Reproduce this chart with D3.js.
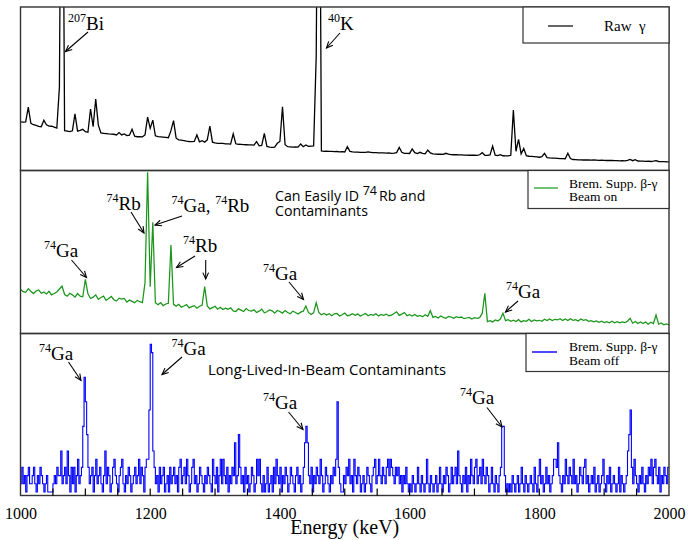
<!DOCTYPE html>
<html><head><meta charset="utf-8">
<script src="https://cdn.jsdelivr.net/npm/d3@7"></script>
<style>body{margin:0;background:#fff} .serif{font-family:"Liberation Serif","Times New Roman",serif} .sans{font-family:"Open Sans",Lato,sans-serif}</style>
</head><body><svg id="c" width="688" height="540"></svg>
<script>
// ---------------- data ----------------
const energyStart = 1000;   // keV, first channel
const binWidth = 4;         // keV per channel (raw and beam-on spectra)
const offBinWidth = 2;      // keV per channel (beam-off histogram)
const xTicks = [1000, 1200, 1400, 1600, 1800, 2000];
const minorTickStep = 50;

// Raw gamma spectrum (arbitrary units), one value per 4 keV from 1000 to 2000
const rawGamma = [
 30.0,29.8,30.0,39.0,29.0,28.2,27.8,27.2,27.0,31.0,
 28.2,27.4,27.3,26.8,26.2,51.0,300,24.6,24.3,24.0,
 24.5,34.8,24.3,24.8,25.4,24.0,23.6,37.8,27.0,43.9,
 28.0,23.2,23.0,22.8,22.6,22.5,22.4,22.0,23.4,22.0,
 22.6,21.6,21.8,25.4,21.2,20.9,21.0,20.8,22.0,32.9,
 26.0,31.0,21.5,20.9,20.8,20.7,20.5,20.3,24.6,30.7,
 20.0,19.0,18.8,18.5,18.2,18.0,17.9,18.0,22.0,17.8,
 18.5,17.6,19.0,27.4,17.6,17.2,16.9,16.9,16.8,16.6,
 16.5,16.4,22.6,16.6,16.3,16.2,16.1,16.0,15.9,15.9,
 15.8,17.9,15.4,15.6,23.0,15.0,14.6,14.4,14.5,16.9,
 18.0,39.2,16.0,14.8,14.7,14.6,14.7,14.6,16.5,14.8,
 15.9,15.0,15.2,15.3,70,300,12.2,12.0,12.1,12.0,
 12.0,11.8,11.9,11.7,11.8,11.6,14.8,12.0,11.6,11.5,
 11.5,11.4,11.3,11.4,11.6,11.4,11.2,11.2,11.1,11.0,
 11.0,10.9,11.0,10.8,10.9,11.2,14.4,11.4,10.8,10.8,
 10.7,13.4,11.2,10.6,11.4,10.8,10.5,12.8,11.0,10.4,
 10.3,10.2,10.2,10.1,10.8,10.3,10.0,9.9,9.9,9.8,
 9.8,9.7,9.7,9.6,9.6,9.7,9.5,9.9,11.2,9.6,
 9.5,9.8,15.2,9.6,9.4,10.0,9.3,9.2,9.2,9.6,
 37.2,12.0,19.3,10.5,13.8,9.3,9.0,8.9,8.8,8.6,
 8.4,8.8,10.8,8.2,8.0,7.9,7.8,7.7,7.6,7.6,
 7.5,10.8,7.6,7.0,6.9,6.8,6.8,6.7,6.8,6.7,
 6.6,6.7,6.6,6.5,6.6,6.5,6.4,6.5,6.4,6.3,
 6.3,6.2,6.3,6.2,6.5,7.1,6.3,6.9,6.1,6.0,
 6.0,5.9,6.0,5.8,6.0,6.3,5.8,5.7,5.7,5.6,
 5.6
];

// Brem. suppressed beta-gamma, beam on (arbitrary units), per 4 keV
const bremOn = [
 26.8,25.4,25.0,27.2,25.6,24.2,25.8,26.4,24.4,25.2,
 24.0,25.6,23.4,24.2,25.2,27.0,28.8,23.6,22.6,24.4,
 23.4,22.0,24.2,22.6,22.2,32.9,24.0,21.2,22.0,23.4,
 20.6,21.8,22.6,20.0,21.2,22.4,20.4,19.6,21.4,20.8,
 21.2,19.0,20.2,19.4,18.6,20.0,19.2,18.6,30.9,98.6,
 28.4,67.9,18.6,17.4,18.6,16.8,17.8,18.2,54.0,17.6,
 16.4,17.6,15.8,16.6,17.4,15.4,16.2,16.8,15.2,16.4,
 17.0,28.4,16.6,14.8,15.6,16.4,14.6,15.8,14.4,15.2,
 14.6,15.4,13.6,13.2,14.8,14.0,13.2,15.0,13.8,13.4,
 14.2,12.6,13.4,14.6,12.4,13.0,14.2,13.6,12.2,13.8,
 13.2,12.2,13.8,12.6,11.8,13.4,12.6,11.6,12.8,13.4,
 16.6,12.6,11.4,12.4,18.6,12.6,11.2,12.0,11.0,11.8,
 10.6,11.8,12.0,10.4,11.2,12.2,10.6,11.0,11.8,10.8,
 11.6,10.4,11.2,12.0,10.6,11.4,10.8,11.8,10.4,11.4,
 10.8,11.6,10.6,11.0,12.0,13.0,10.8,11.6,12.6,10.6,
 11.2,10.4,11.4,10.2,10.8,10.0,11.2,10.2,13.7,9.6,
 10.2,9.2,10.4,9.6,9.0,10.2,9.8,9.0,10.0,9.4,
 9.8,8.8,9.2,9.6,8.6,9.4,9.0,9.4,12.0,24.3,
 7.0,7.6,6.8,8.0,7.4,8.6,12.1,7.6,8.2,7.2,
 7.8,7.0,8.2,6.8,7.6,7.2,8.4,7.0,8.0,7.4,
 7.8,7.2,8.4,7.6,8.6,7.6,8.4,8.0,8.8,7.6,
 8.6,7.6,8.8,7.8,8.2,7.4,8.6,7.8,8.2,7.2,
 7.6,6.8,7.4,6.6,7.2,6.4,7.0,6.2,7.2,6.2,
 7.0,6.2,6.8,6.4,7.2,9.0,6.0,7.0,5.8,6.8,
 5.8,6.8,5.4,6.6,5.8,11.0,5.4,6.2,5.0,5.6,
 4.9
];

// Brem. suppressed beta-gamma, beam off (counts per 2 keV channel), 1000-2000 keV
const bremOff = [
 1,3,1,2,0,2,3,1,1,2,3,1,0,2,1,3,2,1,0,1,
 2,0,0,0,0,1,2,1,3,2,2,5,1,2,3,1,5,2,0,3,
 1,3,0,2,4,1,2,3,8,14,11,7,3,1,2,3,0,2,4,1,
 2,3,1,0,2,5,1,3,2,0,1,3,4,2,1,0,2,3,4,1,
 0,2,1,3,2,0,1,2,3,1,2,4,1,3,2,0,3,4,4,10,
 18,17,5,3,1,2,0,3,1,2,3,0,1,2,0,3,1,2,3,1,
 2,0,3,4,1,2,3,1,4,2,0,1,3,4,1,2,0,1,3,2,
 1,0,2,1,3,2,1,0,4,2,1,3,0,2,4,1,4,2,1,3,
 0,2,1,3,2,6,1,2,7,3,1,2,0,3,1,2,0,1,3,2,
 0,1,4,2,4,1,0,2,0,1,3,0,1,2,0,3,1,4,2,1,
 3,0,2,1,3,2,0,1,3,2,1,0,2,3,1,2,0,1,3,6,
 8,6,2,1,3,0,2,1,3,2,1,4,2,0,1,3,2,1,0,2,
 1,3,2,4,11,3,1,0,0,2,1,3,2,4,1,2,0,4,2,1,
 3,2,0,1,2,0,1,3,2,1,0,2,3,4,1,2,4,2,1,3,
 2,1,3,4,2,4,3,2,1,3,2,3,1,2,0,2,1,3,1,0,
 1,0,2,1,0,1,3,1,0,2,1,0,1,4,1,0,2,1,0,1,
 2,0,1,3,1,0,2,1,3,2,0,1,3,1,2,3,1,5,2,1,
 0,2,1,3,0,2,1,4,2,1,3,4,1,2,3,1,4,2,1,3,
 2,0,1,3,1,0,2,1,0,2,3,8,8,2,0,1,0,1,0,2,
 1,0,1,2,0,1,3,1,0,2,1,0,1,2,1,0,3,1,0,2,
 4,1,2,0,1,3,1,2,0,1,2,4,4,3,6,2,1,0,2,1,
 4,2,1,3,2,1,4,1,2,0,1,3,2,1,3,4,1,2,0,1,
 2,1,3,0,1,2,0,1,2,4,1,0,2,1,3,0,1,2,1,0,
 1,3,0,2,1,0,1,2,5,7,10,3,1,4,2,1,0,2,1,3,
 1,0,2,1,3,2,4,1,3,4,2,1,3,0,2,1,3,2,1,3
];

const legendTexts = [["Raw\u00a0\u00a0γ"], ["Brem. Supp. β-γ", "Beam on"], ["Brem. Supp. β-γ", "Beam off"]];
const seriesColors = ["#000000", "#1a961a", "#0000ff"];

// ---------------- layout ----------------
const svg = d3.select("#c");
const L = 20.5, R = 669;
const panels = [{top: 7, bottom: 170.5}, {top: 170.5, bottom: 333.5}, {top: 333.5, bottom: 495.5}];
const x = d3.scaleLinear().domain([1000, 2000]).range([L, R]);
const yScales = [
  d3.scaleLinear().domain([0, 100]).range([171, 7]),
  d3.scaleLinear().domain([0, 100]).range([333, 170]),
  d3.scaleLinear().domain([0, 20]).range([492, 328])
];
const eAt = (i, w) => energyStart + i * w;

const defs = svg.append("defs");
panels.forEach((p, k) => {
  defs.append("clipPath").attr("id", "clip" + k).append("rect")
    .attr("x", L).attr("y", p.top).attr("width", R - L).attr("height", p.bottom - p.top);
});

// spectra
const lineOf = ys => d3.line().x((d, i) => x(eAt(i, binWidth))).y(d => ys(d));
svg.append("path").attr("clip-path", "url(#clip0)").datum(rawGamma)
  .attr("d", lineOf(yScales[0])).attr("fill", "none").attr("stroke", seriesColors[0]).attr("stroke-width", 1.3);
svg.append("path").attr("clip-path", "url(#clip1)").datum(bremOn)
  .attr("d", lineOf(yScales[1])).attr("fill", "none").attr("stroke", seriesColors[1]).attr("stroke-width", 1.25);
const offPts = bremOff.concat([bremOff[bremOff.length - 1]]);
svg.append("path").attr("clip-path", "url(#clip2)").datum(offPts)
  .attr("d", d3.line().curve(d3.curveStepAfter).x((d, i) => x(eAt(i, offBinWidth))).y(d => yScales[2](d)))
  .attr("fill", "none").attr("stroke", seriesColors[2]).attr("stroke-width", 1.1);

// frames
panels.forEach(p => {
  svg.append("rect").attr("x", L).attr("y", p.top).attr("width", R - L).attr("height", p.bottom - p.top)
    .attr("fill", "none").attr("stroke", "#333").attr("stroke-width", 1.4);
});

// bottom axis
const xAxis = d3.axisBottom(x).tickValues(xTicks).tickSize(0).tickPadding(12).tickFormat(d3.format("d"));
const gAx = svg.append("g").attr("transform", `translate(0,${panels[2].bottom})`).call(xAxis)
  .attr("font-family", null).attr("font-size", null);
gAx.select(".domain").remove();
gAx.selectAll("text").attr("class", "serif").style("font-family", "'Liberation Serif',serif").style("font-size", "16px").attr("fill", "#000");
const minor = d3.range(1050, 2000, minorTickStep);
svg.append("g").selectAll("line").data(minor).join("line")
  .attr("x1", d => x(d)).attr("x2", d => x(d))
  .attr("y1", panels[2].bottom).attr("y2", panels[2].bottom - 7)
  .attr("stroke", "#000").attr("stroke-width", 1.2);
svg.append("text").attr("class", "serif").attr("x", (L + R) / 2).attr("y", 534).attr("text-anchor", "middle")
  .style("font-size", "20px").text("Energy (keV)");

// legends
const legendBoxes = [{x: 523, y: 7, h: 36}, {x: 528, y: 170.5, h: 38}, {x: 526, y: 333.5, h: 38}];
legendBoxes.forEach(b => {
  svg.append("rect").attr("x", b.x).attr("y", b.y).attr("width", R - b.x).attr("height", b.h)
    .attr("fill", "#fff").attr("stroke", "#333").attr("stroke-width", 1.2);
});
svg.append("line").attr("x1", 548).attr("x2", 573).attr("y1", 26).attr("y2", 26).attr("stroke", seriesColors[0]).attr("stroke-width", 1.2);
svg.append("text").attr("class", "serif").attr("x", 604).attr("y", 31).style("font-size", "15px").text(legendTexts[0][0]);
svg.append("line").attr("x1", 534).attr("x2", 558).attr("y1", 188).attr("y2", 188).attr("stroke", "#3aa63a").attr("stroke-width", 1.4);
legendTexts[1].forEach((t, j) => svg.append("text").attr("class", "serif").attr("x", 569).attr("y", 187.5 + j * 13.5).style("font-size", "13.5px").text(t));
svg.append("line").attr("x1", 532).attr("x2", 557).attr("y1", 352).attr("y2", 352).attr("stroke", seriesColors[2]).attr("stroke-width", 1.4);
legendTexts[2].forEach((t, j) => svg.append("text").attr("class", "serif").attr("x", 569).attr("y", 351 + j * 13.5).style("font-size", "13.5px").text(t));

// annotations
function isoLabel(xp, yp, parts, cls, size, supSize, supGap) {
  const t = svg.append("text").attr("class", cls).attr("x", xp).attr("y", yp).style("font-size", size + "px");
  let raised = false;
  const rise = size * 0.42;
  parts.forEach(p => {
    if (p.br) {
      t.append("tspan").attr("x", xp).attr("dy", p.br).text(p.t);
      raised = false;
    } else if (p.sup) {
      t.append("tspan").style("font-size", supSize + "px").attr("dy", raised ? 0 : -rise).text(p.sup);
      raised = true;
    } else {
      t.append("tspan").attr("dy", raised ? rise : 0).attr("dx", raised ? supGap : 0).text(p.t);
      raised = false;
    }
  });
}
function arrow(x1, y1, x2, y2) {
  const g = svg.append("g").attr("stroke", "#000").attr("stroke-width", 1.1).attr("fill", "none");
  g.append("line").attr("x1", x1).attr("y1", y1).attr("x2", x2).attr("y2", y2);
  const a = Math.atan2(y2 - y1, x2 - x1), h = 7, w = 0.42;
  g.append("path").attr("d", `M${x2 - h * Math.cos(a - w)},${y2 - h * Math.sin(a - w)}L${x2},${y2}L${x2 - h * Math.cos(a + w)},${y2 - h * Math.sin(a + w)}`);
}
const ann = [
  {x: 68, y: 30, parts: [{sup: "207"}, {t: "Bi"}], ar: [88, 32, 65.5, 51.5]},
  {x: 328, y: 30, parts: [{sup: "40"}, {t: "K"}], ar: [340, 33, 326.5, 48]},
  {x: 44, y: 257, parts: [{sup: "74"}, {t: "Ga"}], ar: [71.5, 260, 86.5, 277.5]},
  {x: 106.5, y: 210, parts: [{sup: "74"}, {t: "Rb"}], ar: [131, 212, 144, 233]},
  {x: 171.5, y: 212, parts: [{sup: "74"}, {t: "Ga, "}, {sup: "74"}, {t: "Rb"}], ar: [182, 216, 155, 225]},
  {x: 183, y: 252, parts: [{sup: "74"}, {t: "Rb"}], ar: [195, 256, 176.5, 267.5]},
  {x: 263, y: 280, parts: [{sup: "74"}, {t: "Ga"}], ar: [289, 282, 303.5, 299.5]},
  {x: 506, y: 297.5, parts: [{sup: "74"}, {t: "Ga"}], ar: [518, 301, 505.5, 312]},
  {x: 39, y: 360, parts: [{sup: "74"}, {t: "Ga"}], ar: [68.5, 362, 81, 380.5]},
  {x: 171.5, y: 355, parts: [{sup: "74"}, {t: "Ga"}], ar: [182, 357, 162, 374.5]},
  {x: 263, y: 409, parts: [{sup: "74"}, {t: "Ga"}], ar: [288.5, 412, 303, 429.5]},
  {x: 460, y: 403.5, parts: [{sup: "74"}, {t: "Ga"}], ar: [487, 407.5, 502, 427]}
];
ann.forEach(a => { isoLabel(a.x, a.y, a.parts, "serif", 19, 12, 0); arrow(...a.ar); });
arrow(205.7, 260, 205.7, 279);

isoLabel(275, 200.5, [{t: "Can Easily ID\u00a0"}, {sup: "74"}, {t: "Rb and"}, {t: "Contaminants", br: 15}], "sans", 14.2, 12.5, 2);
isoLabel(208, 375, [{t: "Long-Lived-In-Beam Contaminants"}], "sans", 14.8, 13, 0);
</script></body></html>
